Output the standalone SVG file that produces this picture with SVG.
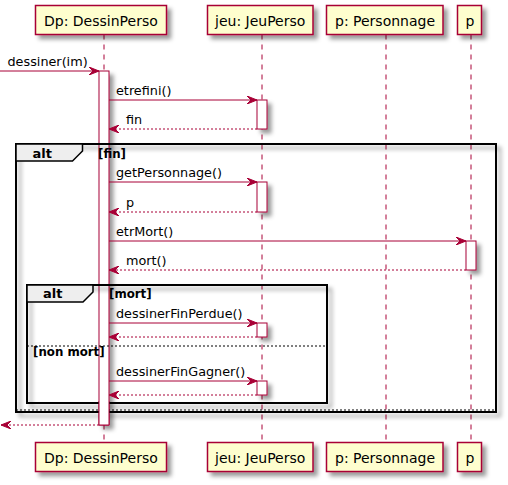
<svg xmlns="http://www.w3.org/2000/svg" width="508" height="485" viewBox="0 0 508 485">
<style>
.part{fill:#FEFECE;stroke:#A80036;stroke-width:1.5}
.ptxt{font-family:"DejaVu Sans",sans-serif;font-size:14px;fill:#000}
.life{stroke:#A80036;stroke-width:1;stroke-dasharray:5,5;fill:none}
.act{fill:#FFFFFF;stroke:#A80036;stroke-width:1}
.frame{fill:none;stroke:#000;stroke-width:2}
.tab{fill:#EEEEEE;stroke:#000;stroke-width:1.5}
.sep{stroke:#000;stroke-width:1;stroke-dasharray:2,2;fill:none}
.ftxt{font-family:"DejaVu Sans",sans-serif;font-size:13px;font-weight:bold;fill:#000}
.gtxt{font-family:"DejaVu Sans",sans-serif;font-size:11.8px;font-weight:bold;fill:#000}
.msg{stroke:#A80036;stroke-width:1;fill:none;marker-end:url(#arr)}
.ret{stroke:#A80036;stroke-width:1;fill:none;stroke-dasharray:2,2;marker-end:url(#arr)}
.mtxt{font-family:"DejaVu Sans",sans-serif;font-size:12.8px;fill:#000}
</style>
<defs>
<filter id="sh" x="-1" y="-1" width="300%" height="300%">
<feGaussianBlur in="SourceAlpha" stdDeviation="2" result="b"/>
<feColorMatrix in="b" type="matrix" values="0 0 0 0 0 0 0 0 0 0 0 0 0 0 0 0 0 0 .4 0" result="b2"/>
<feOffset in="b2" dx="4" dy="4" result="b3"/>
<feBlend in="SourceGraphic" in2="b3" mode="normal"/>
</filter>
<marker id="arr" viewBox="0 0 10 8" refX="10" refY="4" markerWidth="10" markerHeight="8" markerUnits="userSpaceOnUse" orient="auto">
<path d="M0,0 L10,4 L0,8 L4,4 Z" fill="#A80036" stroke="#A80036" stroke-width="1"/>
</marker>
</defs>

<g id="lifelines">
<line class="life" x1="104" y1="34.5" x2="104" y2="442.5"/>
<line class="life" x1="262" y1="34.5" x2="262" y2="442.5"/>
<line class="life" x1="386" y1="34.5" x2="386" y2="442.5"/>
<line class="life" x1="471" y1="34.5" x2="471" y2="442.5"/>
</g>

<g id="node-dp">
<rect class="part" x="35.5" y="5.5" width="131" height="29" filter="url(#sh)"/>
<text class="ptxt" x="44" y="26">Dp: DessinPerso</text>
<rect class="part" x="35.5" y="442.5" width="131" height="29" filter="url(#sh)"/>
<text class="ptxt" x="44" y="463">Dp: DessinPerso</text>
<rect class="act" x="99" y="71" width="10" height="354" filter="url(#sh)"/>
</g>

<g id="node-jeu">
<rect class="part" x="207.5" y="5.5" width="105.5" height="29" filter="url(#sh)"/>
<text class="ptxt" x="215" y="26">jeu: JeuPerso</text>
<rect class="part" x="207.5" y="442.5" width="105.5" height="29" filter="url(#sh)"/>
<text class="ptxt" x="215" y="463">jeu: JeuPerso</text>
<rect class="act" x="257" y="100" width="10" height="29" filter="url(#sh)"/>
<rect class="act" x="257" y="182" width="10" height="30" filter="url(#sh)"/>
<rect class="act" x="257" y="323" width="10" height="14" filter="url(#sh)"/>
<rect class="act" x="257" y="381" width="10" height="14" filter="url(#sh)"/>
</g>

<g id="node-personnage">
<rect class="part" x="326.5" y="5.5" width="116.5" height="29" filter="url(#sh)"/>
<text class="ptxt" x="335" y="26">p: Personnage</text>
<rect class="part" x="326.5" y="442.5" width="116.5" height="29" filter="url(#sh)"/>
<text class="ptxt" x="335" y="463">p: Personnage</text>
</g>

<g id="node-p">
<rect class="part" x="457.5" y="5.5" width="24" height="29" filter="url(#sh)"/>
<text class="ptxt" x="465.5" y="26">p</text>
<rect class="part" x="457.5" y="442.5" width="24" height="29" filter="url(#sh)"/>
<text class="ptxt" x="465.5" y="463">p</text>
<rect class="act" x="466" y="241" width="10" height="29" filter="url(#sh)"/>
</g>

<g id="frame-alt-fin">
<rect class="frame" x="16" y="144" width="480" height="268" filter="url(#sh)"/>
<path class="tab" d="M16,144 H82.5 V151 L72.5,161 H16 Z"/>
<line class="sep" x1="16" y1="410" x2="496" y2="410"/>
</g>

<g id="frame-alt-mort">
<rect class="frame" x="27" y="285" width="300" height="118" filter="url(#sh)"/>
<path class="tab" d="M27,285 H93 V292 L83,302 H27 Z"/>
<line class="sep" x1="27" y1="346" x2="327" y2="346"/>
</g>

<g id="dp-activation-end">
<rect x="99.5" y="401" width="9" height="23.5" fill="#FFFFFF"/>
<path class="act" d="M99,401 V425 H109 V401" fill="none"/>
</g>

<g id="frame-labels">
<text class="ftxt" x="32.5" y="158">alt</text>
<text class="gtxt" x="98" y="157.5">[fin]</text>
<text class="ftxt" x="43" y="298">alt</text>
<text class="gtxt" x="109" y="297.5">[mort]</text>
<text class="gtxt" x="33" y="356">[non mort]</text>
</g>

<g id="connectors">
<path class="msg" d="M0,71 H99"/>
<text class="mtxt" x="7.5" y="66">dessiner(im)</text>
<path class="msg" d="M109,100 H257"/>
<text class="mtxt" x="116" y="95">etrefini()</text>
<path class="ret" d="M257,129 H109"/>
<text class="mtxt" x="126" y="124">fin</text>
<path class="msg" d="M109,182 H257"/>
<text class="mtxt" x="116" y="177">getPersonnage()</text>
<path class="ret" d="M257,212 H109"/>
<text class="mtxt" x="126" y="207">p</text>
<path class="msg" d="M109,241 H466"/>
<text class="mtxt" x="116" y="236">etrMort()</text>
<path class="ret" d="M466,270 H109"/>
<text class="mtxt" x="126" y="265">mort()</text>
<path class="msg" d="M109,323 H257"/>
<text class="mtxt" x="116" y="318">dessinerFinPerdue()</text>
<path class="ret" d="M257,337 H109"/>
<path class="msg" d="M109,381 H257"/>
<text class="mtxt" x="116" y="376">dessinerFinGagner()</text>
<path class="ret" d="M257,395 H109"/>
<path class="ret" d="M99,425 H1"/>
</g>
</svg>
